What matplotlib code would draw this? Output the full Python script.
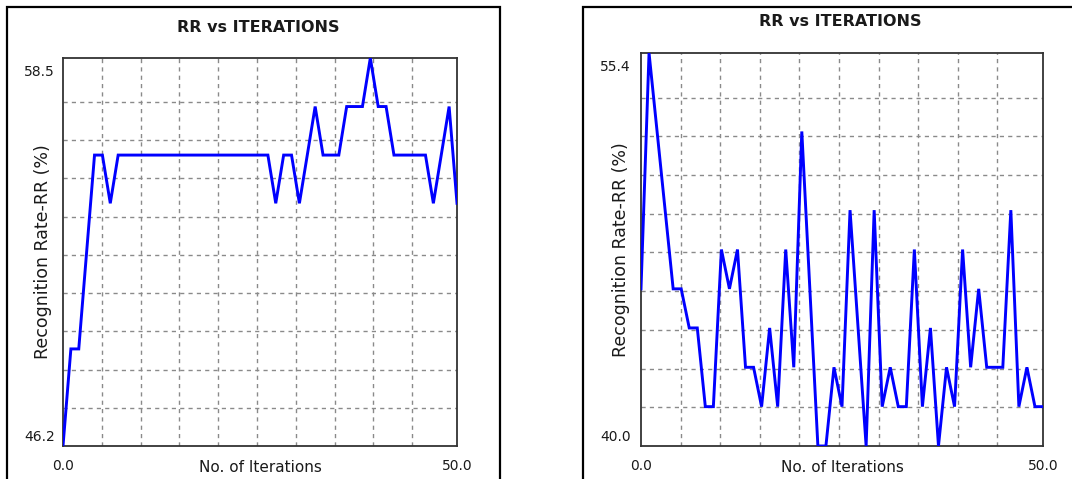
import numpy as np
import matplotlib
matplotlib.use("Agg")
import matplotlib.pyplot as plt
from matplotlib.patches import Rectangle

# iteration index (x) shared by both charts
iterations = np.arange(0, 51)

# left chart: recognition rate (%) per iteration
rr_left = [46.15, 49.23, 49.23, 52.31, 55.38, 55.38, 53.85,
           55.38, 55.38, 55.38, 55.38, 55.38, 55.38, 55.38, 55.38, 55.38, 55.38,
           55.38, 55.38, 55.38, 55.38, 55.38, 55.38, 55.38, 55.38, 55.38, 55.38,
           53.85, 55.38, 55.38, 53.85, 55.38, 56.92, 55.38, 55.38, 55.38,
           56.92, 56.92, 56.92, 58.46, 56.92, 56.92,
           55.38, 55.38, 55.38, 55.38, 55.38, 53.85, 55.38, 56.92, 53.85]

# right chart: recognition rate (%) per iteration
rr_right = [46.15, 55.38, 52.31, 49.23, 46.15, 46.15, 44.62, 44.62, 41.54, 41.54,
            47.69, 46.15, 47.69, 43.08, 43.08, 41.54, 44.62, 41.54, 47.69, 43.08,
            52.31, 46.15, 40.00, 40.00, 43.08, 41.54, 49.23, 44.62, 40.00, 49.23,
            41.54, 43.08, 41.54, 41.54, 47.69, 41.54, 44.62, 40.00, 43.08, 41.54,
            47.69, 43.08, 46.15, 43.08, 43.08, 43.08, 49.23, 41.54, 43.08, 41.54,
            41.54]

# axis ranges and the labels shown at the ends
left_ylim = (46.15, 58.46)
right_ylim = (40.00, 55.38)
left_ylabels = ("46.2", "58.5")
right_ylabels = ("40.0", "55.4")
x_labels = ("0.0", "50.0")

title = "RR vs ITERATIONS"
xlabel = "No. of Iterations"
ylabel = "Recognition Rate-RR (%)"

W, H = 1072, 479
fig = plt.figure(figsize=(W / 100, H / 100), dpi=100)
fig.patch.set_facecolor("white")

TXT = "#1a1a1a"


def px(v, total):
    return v / total


def draw_panel(rect, values, ylim, ylabels, ytick_dx):
    x0, y0, x1, y1 = rect  # pixel box of the plot area (top-left origin)
    ax = fig.add_axes([px(x0, W), 1 - px(y1, H), px(x1 - x0, W), px(y1 - y0, H)])
    ax.set_facecolor("white")
    ax.set_xlim(0, 50)
    ax.set_ylim(*ylim)

    # grid: 10 divisions, spacing a bit short of a tenth (as the original)
    step = 0.0985
    gx = [k * step * 50 for k in range(1, 10)]
    gy = [ylim[0] + k * step * (ylim[1] - ylim[0]) for k in range(1, 10)]
    ax.set_xticks(gx)
    ax.set_yticks(gy)
    ax.set_xticklabels([])
    ax.set_yticklabels([])
    ax.tick_params(length=0)
    ax.grid(True, color="#8a8a8a", linestyle=(0, (3, 3)), linewidth=1.0)
    ax.set_axisbelow(True)

    for s in ax.spines.values():
        s.set_color("#333333")
        s.set_linewidth(1.3)

    ax.plot(iterations, values, color="#0000ff", linewidth=2.1,
            solid_joinstyle="miter", zorder=3)

    # end labels of the y axis
    ax.annotate(ylabels[1], xy=(0, ylim[1]), xycoords=("axes fraction", "data"),
                xytext=(ytick_dx, -14), textcoords="offset pixels",
                ha="right", va="center", fontsize=10, color=TXT)
    ax.annotate(ylabels[0], xy=(0, ylim[0]), xycoords=("axes fraction", "data"),
                xytext=(ytick_dx, 9), textcoords="offset pixels",
                ha="right", va="center", fontsize=10, color=TXT)

    # end labels of the x axis
    ax.annotate(x_labels[0], xy=(0, 0), xycoords=("data", "axes fraction"),
                xytext=(0, -20), textcoords="offset pixels",
                ha="center", va="center", fontsize=10, color=TXT)
    ax.annotate(x_labels[1], xy=(50, 0), xycoords=("data", "axes fraction"),
                xytext=(0, -20), textcoords="offset pixels",
                ha="center", va="center", fontsize=10, color=TXT)

    ax.annotate(xlabel, xy=(0.5, 0), xycoords="axes fraction",
                xytext=(0, -21), textcoords="offset pixels",
                ha="center", va="center", fontsize=11, color=TXT)
    ax.annotate(ylabel, xy=(0, 0.5), xycoords="axes fraction",
                xytext=(-20, 0), textcoords="offset pixels",
                ha="center", va="center", rotation=90, fontsize=12.5, color=TXT)
    ax.annotate(title, xy=(0.5, 1), xycoords="axes fraction",
                xytext=(-2, 31), textcoords="offset pixels",
                ha="center", va="center", fontsize=11.5, fontweight="bold",
                color=TXT)
    return ax


# outer frames of the two chart panels
for fx0, fx1 in [(7, 500), (583, 1085)]:
    fig.patches.append(Rectangle((fx0 / W, -0.1), (fx1 - fx0) / W,
                                 1.1 - 7 / H, transform=fig.transFigure,
                                 fill=False, edgecolor="black", linewidth=1.6,
                                 clip_on=False))

draw_panel((63, 58, 457, 446), rr_left, left_ylim, left_ylabels, -8)
draw_panel((641, 53, 1043, 446), rr_right, right_ylim, right_ylabels, -10)

fig.savefig("out.png", dpi=100, facecolor="white")
